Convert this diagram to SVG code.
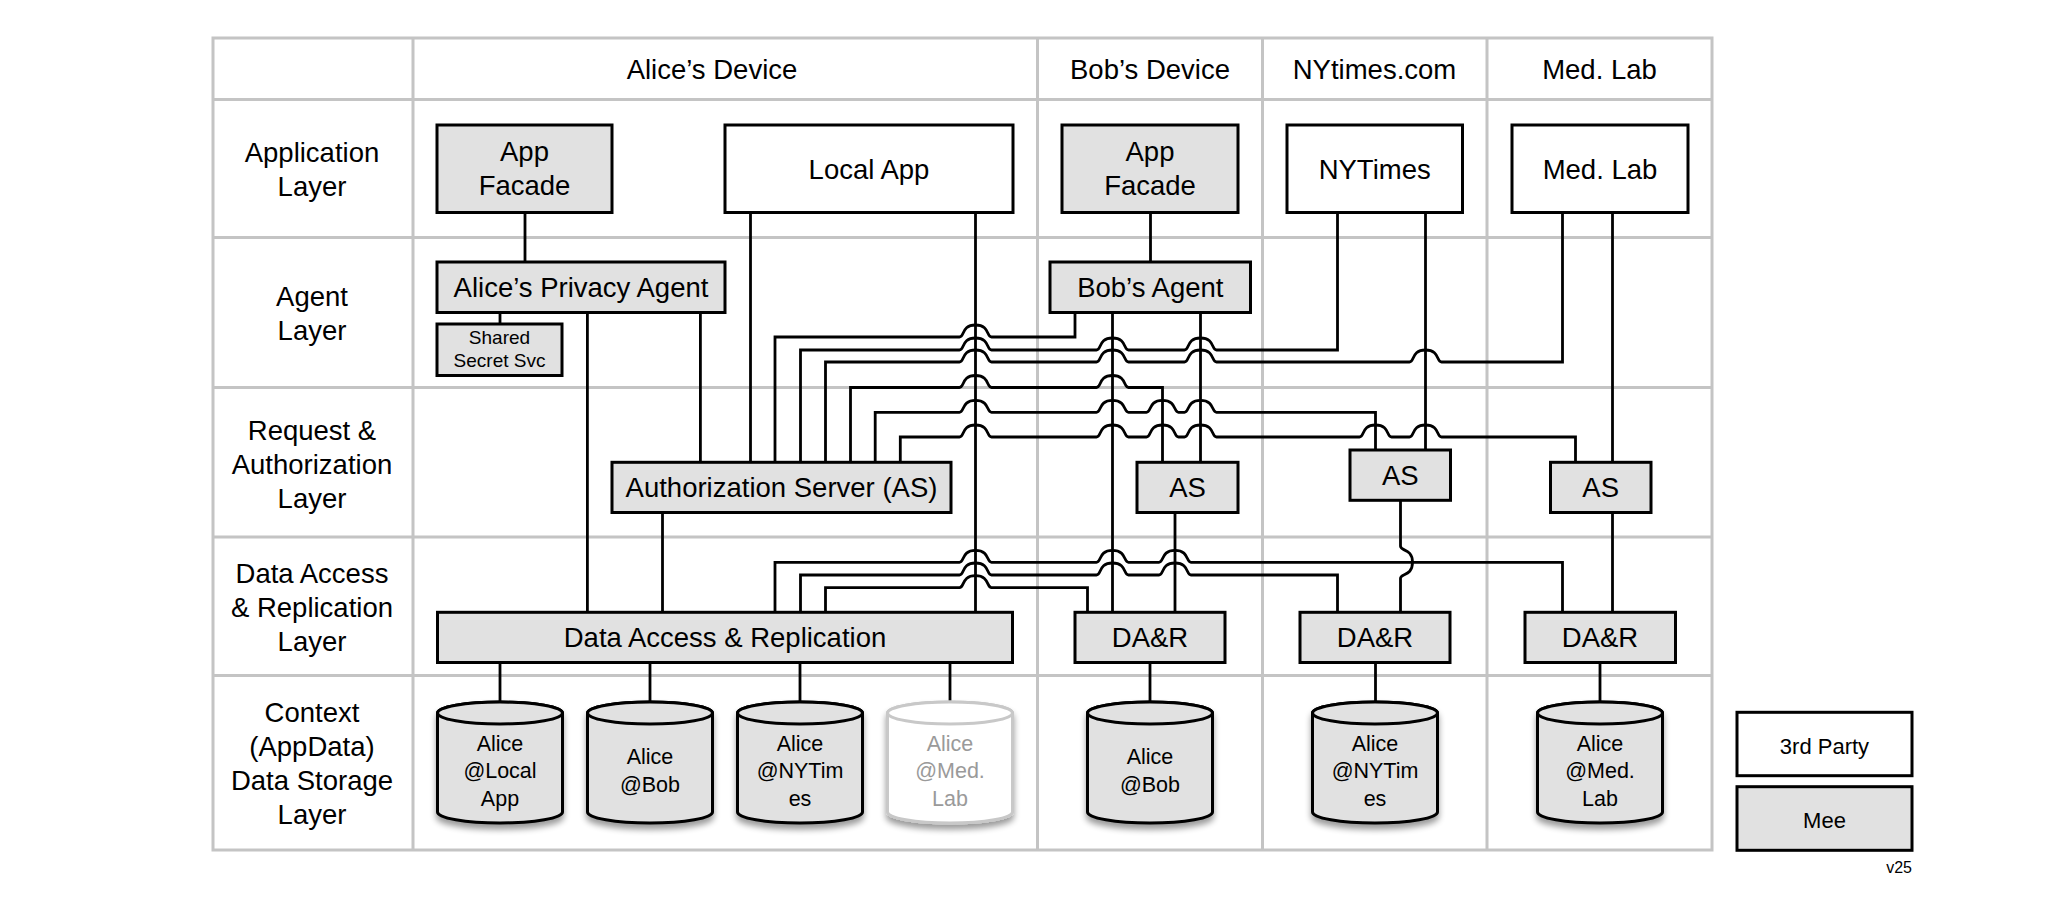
<svg xmlns="http://www.w3.org/2000/svg" width="2049" height="899" viewBox="0 0 2049 899">
<style>
.grid{stroke:#c4c4c4;stroke-width:3;fill:none}
.box{stroke:#000;stroke-width:3;fill:#e1e1e1}
.wbox{stroke:#000;stroke-width:3;fill:#fff}
.ln{stroke:#000;stroke-width:2.8;fill:none}
text{font-family:"Liberation Sans",Arial,Helvetica,sans-serif;fill:#000;text-anchor:middle}
.t{font-size:27.5px}
.s{font-size:19px}
.c{font-size:21.5px}
.g{fill:#9a9a9a}
.cyl{stroke:#000;stroke-width:3;fill:#e1e1e1}
.fcyl{stroke:#c8c8c8;stroke-width:3;fill:#fff}
</style>
<defs>
<filter id="sh" x="-20%" y="-20%" width="140%" height="150%">
<feGaussianBlur in="SourceAlpha" stdDeviation="3"/>
<feOffset dy="5" result="o"/>
<feComponentTransfer><feFuncA type="linear" slope="0.4"/></feComponentTransfer>
<feMerge><feMergeNode/><feMergeNode in="SourceGraphic"/></feMerge>
</filter>
</defs>
<rect width="2049" height="899" fill="#fff"/>
<g id="grid" class="grid">
<rect x="213" y="38" width="1499" height="812"/>
<line x1="413" y1="38" x2="413" y2="850"/>
<line x1="1037.5" y1="38" x2="1037.5" y2="850"/>
<line x1="1262.5" y1="38" x2="1262.5" y2="850"/>
<line x1="1487" y1="38" x2="1487" y2="850"/>
<line x1="213" y1="99.5" x2="1712" y2="99.5"/>
<line x1="213" y1="237.5" x2="1712" y2="237.5"/>
<line x1="213" y1="387.5" x2="1712" y2="387.5"/>
<line x1="213" y1="537" x2="1712" y2="537"/>
<line x1="213" y1="675.5" x2="1712" y2="675.5"/>
</g>
<g id="headers" class="t">
<text x="712" y="79" class="t">Alice’s Device</text>
<text x="1150" y="79" class="t">Bob’s Device</text>
<text x="1374.5" y="79" class="t">NYtimes.com</text>
<text x="1599.5" y="79" class="t">Med. Lab</text>
</g>
<g id="layers">
<text x="312" y="162" class="t">Application</text>
<text x="312" y="196" class="t">Layer</text>
<text x="312" y="306" class="t">Agent</text>
<text x="312" y="340" class="t">Layer</text>
<text x="312" y="440" class="t">Request &amp;</text>
<text x="312" y="474" class="t">Authorization</text>
<text x="312" y="508" class="t">Layer</text>
<text x="312" y="583" class="t">Data Access</text>
<text x="312" y="617" class="t">&amp; Replication</text>
<text x="312" y="651" class="t">Layer</text>
<text x="312" y="722" class="t">Context</text>
<text x="312" y="756" class="t">(AppData)</text>
<text x="312" y="790" class="t">Data Storage</text>
<text x="312" y="824" class="t">Layer</text>
</g>
<g id="connectors" class="ln">
<path d="M525,212.5 V262"/>
<path d="M500,312.5 V324"/>
<path d="M587.4,312.5 V612.3"/>
<path d="M700.4,312.5 V462.3"/>
<path d="M750.5,212.5 V462.3"/>
<path d="M975.5,212.5 V612.3"/>
<path d="M662.5,512.5 V612.3"/>
<path d="M500,662.5 V702"/>
<path d="M650,662.5 V702"/>
<path d="M800,662.5 V702"/>
<path d="M950,662.5 V702"/>
<path d="M1150.5,212.5 V262"/>
<path d="M1112.5,312.5 V612.3"/>
<path d="M1200.5,312.5 V462.3"/>
<path d="M1175,512.5 V612.3"/>
<path d="M1150,662.5 V702"/>
<path d="M1425.5,212.5 V450"/>
<path d="M1400.5,500.3 V546.3 C1400.5,551.3 1412.5,548.3 1412.5,562.3 C1412.5,576.3 1400.5,573.3 1400.5,578.3 V612.3"/>
<path d="M1375.5,662.5 V702"/>
<path d="M1612.5,212.5 V462.3"/>
<path d="M1612.5,512.5 V612.3"/>
<path d="M1600,662.5 V702"/>
<path d="M775,462.3 V337 H959.5 C964.5,337 961.5,325 975.5,325 C989.5,325 986.5,337 991.5,337 H1075 V312.5"/>
<path d="M800.5,462.3 V350 H959.5 C964.5,350 961.5,338 975.5,338 C989.5,338 986.5,350 991.5,350 H1096.5 C1101.5,350 1098.5,338 1112.5,338 C1126.5,338 1123.5,350 1128.5,350 H1184.5 C1189.5,350 1186.5,338 1200.5,338 C1214.5,338 1211.5,350 1216.5,350 H1337.5 V212.5"/>
<path d="M825.5,462.3 V362 H959.5 C964.5,362 961.5,350 975.5,350 C989.5,350 986.5,362 991.5,362 H1096.5 C1101.5,362 1098.5,350 1112.5,350 C1126.5,350 1123.5,362 1128.5,362 H1184.5 C1189.5,362 1186.5,350 1200.5,350 C1214.5,350 1211.5,362 1216.5,362 H1409.5 C1414.5,362 1411.5,350 1425.5,350 C1439.5,350 1436.5,362 1441.5,362 H1562.5 V212.5"/>
<path d="M850.5,462.3 V387.5 H959.5 C964.5,387.5 961.5,375.5 975.5,375.5 C989.5,375.5 986.5,387.5 991.5,387.5 H1096.5 C1101.5,387.5 1098.5,375.5 1112.5,375.5 C1126.5,375.5 1123.5,387.5 1128.5,387.5 H1162.5 V462.3"/>
<path d="M875.2,462.3 V412.3 H959.5 C964.5,412.3 961.5,400.3 975.5,400.3 C989.5,400.3 986.5,412.3 991.5,412.3 H1096.5 C1101.5,412.3 1098.5,400.3 1112.5,400.3 C1126.5,400.3 1123.5,412.3 1128.5,412.3 H1146.5 C1151.5,412.3 1148.5,400.3 1162.5,400.3 C1176.5,400.3 1173.5,412.3 1178.5,412.3 H1184.5 C1189.5,412.3 1186.5,400.3 1200.5,400.3 C1214.5,400.3 1211.5,412.3 1216.5,412.3 H1375.5 V450"/>
<path d="M900.3,462.3 V437 H959.5 C964.5,437 961.5,425 975.5,425 C989.5,425 986.5,437 991.5,437 H1096.5 C1101.5,437 1098.5,425 1112.5,425 C1126.5,425 1123.5,437 1128.5,437 H1146.5 C1151.5,437 1148.5,425 1162.5,425 C1176.5,425 1173.5,437 1178.5,437 H1184.5 C1189.5,437 1186.5,425 1200.5,425 C1214.5,425 1211.5,437 1216.5,437 H1359.5 C1364.5,437 1361.5,425 1375.5,425 C1389.5,425 1386.5,437 1391.5,437 H1409.5 C1414.5,437 1411.5,425 1425.5,425 C1439.5,425 1436.5,437 1441.5,437 H1575.5 V462.3"/>
<path d="M775,612.3 V562.3 H959.5 C964.5,562.3 961.5,550.3 975.5,550.3 C989.5,550.3 986.5,562.3 991.5,562.3 H1096.5 C1101.5,562.3 1098.5,550.3 1112.5,550.3 C1126.5,550.3 1123.5,562.3 1128.5,562.3 H1159 C1164,562.3 1161,550.3 1175,550.3 C1189,550.3 1186,562.3 1191,562.3 H1562.5 V612.3"/>
<path d="M800.5,612.3 V575 H959.5 C964.5,575 961.5,563 975.5,563 C989.5,563 986.5,575 991.5,575 H1096.5 C1101.5,575 1098.5,563 1112.5,563 C1126.5,563 1123.5,575 1128.5,575 H1159 C1164,575 1161,563 1175,563 C1189,563 1186,575 1191,575 H1337.5 V612.3"/>
<path d="M825.5,612.3 V587.7 H959.5 C964.5,587.7 961.5,575.7 975.5,575.7 C989.5,575.7 986.5,587.7 991.5,587.7 H1087.5 V612.3"/>
</g>
<g id="alice-facade"><rect class="box" x="437" y="125" width="175" height="87.5"/><text x="524.5" y="161" class="t">App</text><text x="524.5" y="195" class="t">Facade</text></g>
<g id="local-app"><rect class="wbox" x="725" y="125" width="288" height="87.5"/><text x="869" y="179" class="t">Local App</text></g>
<g id="alice-agent"><rect class="box" x="437" y="262" width="288" height="50.5"/><text x="581" y="297" class="t">Alice’s Privacy Agent</text></g>
<g id="shared-secret"><rect class="box" x="437" y="324" width="125" height="51.5"/><text x="499.5" y="344" class="s">Shared</text><text x="499.5" y="366.5" class="s">Secret Svc</text></g>
<g id="alice-as"><rect class="box" x="612" y="462.3" width="339" height="50.2"/><text x="781.5" y="497" class="t">Authorization Server (AS)</text></g>
<g id="alice-dar"><rect class="box" x="437.5" y="612.3" width="575" height="50.2"/><text x="725" y="647" class="t">Data Access &amp; Replication</text></g>
<g id="bob-facade"><rect class="box" x="1062" y="125" width="176" height="87.5"/><text x="1150" y="161" class="t">App</text><text x="1150" y="195" class="t">Facade</text></g>
<g id="bob-agent"><rect class="box" x="1050" y="262" width="200.5" height="50.5"/><text x="1150.3" y="297" class="t">Bob’s Agent</text></g>
<g id="bob-as"><rect class="box" x="1137" y="462.3" width="101" height="50.2"/><text x="1187.5" y="497" class="t">AS</text></g>
<g id="bob-dar"><rect class="box" x="1075" y="612.3" width="150" height="50.2"/><text x="1150" y="647" class="t">DA&amp;R</text></g>
<g id="nyt-app"><rect class="wbox" x="1287" y="125" width="175.5" height="87.5"/><text x="1374.7" y="179" class="t">NYTimes</text></g>
<g id="nyt-as"><rect class="box" x="1350" y="450" width="100.5" height="50.3"/><text x="1400.3" y="485" class="t">AS</text></g>
<g id="nyt-dar"><rect class="box" x="1300" y="612.3" width="150" height="50.2"/><text x="1375" y="647" class="t">DA&amp;R</text></g>
<g id="med-app"><rect class="wbox" x="1512" y="125" width="176" height="87.5"/><text x="1600" y="179" class="t">Med. Lab</text></g>
<g id="med-as"><rect class="box" x="1550.5" y="462.3" width="100.5" height="50.2"/><text x="1600.7" y="497" class="t">AS</text></g>
<g id="med-dar"><rect class="box" x="1525" y="612.3" width="150.5" height="50.2"/><text x="1600" y="647" class="t">DA&amp;R</text></g>
<g id="cyl-alice-local"><g filter="url(#sh)" class="cyl"><path d="M437.5,713 V812 A62.5,11 0 0 0 562.5,812 V713 A62.5,11 0 0 0 437.5,713 Z"/><ellipse cx="500" cy="713" rx="62.5" ry="11"/></g><text x="500" y="750.5" class="c">Alice</text><text x="500" y="778" class="c">@Local</text><text x="500" y="805.5" class="c">App</text></g>
<g id="cyl-alice-bob"><g filter="url(#sh)" class="cyl"><path d="M587.5,713 V812 A62.5,11 0 0 0 712.5,812 V713 A62.5,11 0 0 0 587.5,713 Z"/><ellipse cx="650" cy="713" rx="62.5" ry="11"/></g><text x="650" y="764" class="c">Alice</text><text x="650" y="791.5" class="c">@Bob</text></g>
<g id="cyl-alice-nyt"><g filter="url(#sh)" class="cyl"><path d="M737.5,713 V812 A62.5,11 0 0 0 862.5,812 V713 A62.5,11 0 0 0 737.5,713 Z"/><ellipse cx="800" cy="713" rx="62.5" ry="11"/></g><text x="800" y="750.5" class="c">Alice</text><text x="800" y="778" class="c">@NYTim</text><text x="800" y="805.5" class="c">es</text></g>
<g id="cyl-alice-med"><g filter="url(#sh)" class="fcyl"><path d="M887.5,713 V812 A62.5,11 0 0 0 1012.5,812 V713 A62.5,11 0 0 0 887.5,713 Z"/><ellipse cx="950" cy="713" rx="62.5" ry="11"/></g><text x="950" y="750.5" class="c g">Alice</text><text x="950" y="778" class="c g">@Med.</text><text x="950" y="805.5" class="c g">Lab</text></g>
<g id="cyl-bob"><g filter="url(#sh)" class="cyl"><path d="M1087.5,713 V812 A62.5,11 0 0 0 1212.5,812 V713 A62.5,11 0 0 0 1087.5,713 Z"/><ellipse cx="1150" cy="713" rx="62.5" ry="11"/></g><text x="1150" y="764" class="c">Alice</text><text x="1150" y="791.5" class="c">@Bob</text></g>
<g id="cyl-nyt"><g filter="url(#sh)" class="cyl"><path d="M1312.5,713 V812 A62.5,11 0 0 0 1437.5,812 V713 A62.5,11 0 0 0 1312.5,713 Z"/><ellipse cx="1375" cy="713" rx="62.5" ry="11"/></g><text x="1375" y="750.5" class="c">Alice</text><text x="1375" y="778" class="c">@NYTim</text><text x="1375" y="805.5" class="c">es</text></g>
<g id="cyl-med"><g filter="url(#sh)" class="cyl"><path d="M1537.5,713 V812 A62.5,11 0 0 0 1662.5,812 V713 A62.5,11 0 0 0 1537.5,713 Z"/><ellipse cx="1600" cy="713" rx="62.5" ry="11"/></g><text x="1600" y="750.5" class="c">Alice</text><text x="1600" y="778" class="c">@Med.</text><text x="1600" y="805.5" class="c">Lab</text></g>
<g id="legend-3rd"><rect class="wbox" x="1737" y="712.3" width="175" height="63.4"/><text x="1824.5" y="753.5" style="font-size:22px">3rd Party</text></g>
<g id="legend-mee"><rect class="box" x="1737" y="786.7" width="175" height="63.6"/><text x="1824.5" y="828" style="font-size:22px">Mee</text></g>
<text x="1912" y="873" style="font-size:16px;text-anchor:end">v25</text>
</svg>
